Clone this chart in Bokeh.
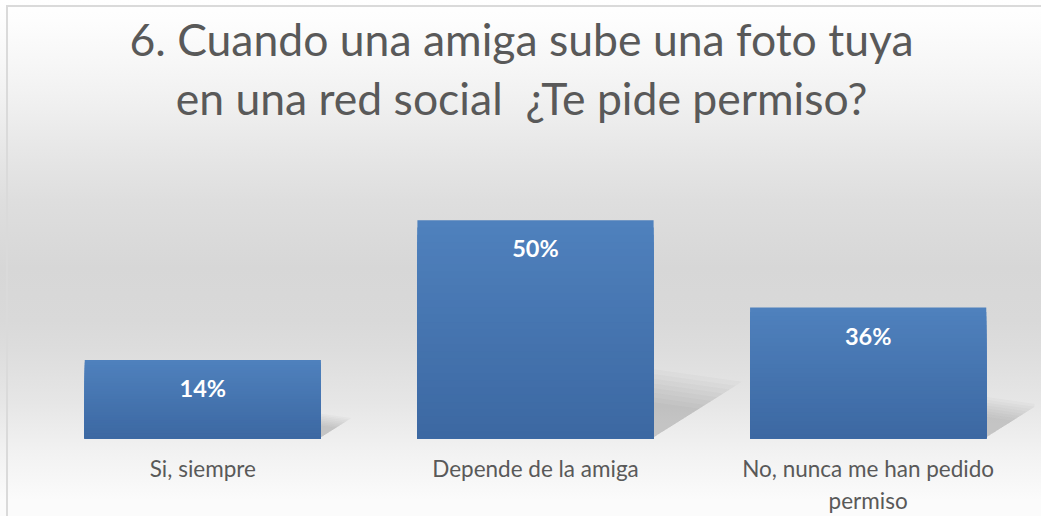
from bokeh.plotting import figure
from bokeh.models import Range1d, FixedTicker, ColumnDataSource
from bokeh.core.properties import value
from bokeh.embed import file_html
from bokeh.resources import INLINE

# ---- data ----
categories = ["Si, siempre", "Depende de la amiga", "No, nunca me han pedido\npermiso"]
percent_values = [14, 50, 36]
bar_heights = [18.0, 50.0, 30.0]   # bar heights as drawn in the picture
title_lines = ["6. Cuando una amiga sube una foto tuya",
               "en una red social \u00a0¿Te pide permiso?"]

# ---- layout constants ----
LEFT = 36
FRAME_W, FRAME_H = 998, 438
PX_PER_UNIT = 288 / 66.0          # vertical px per bar unit
Y_END = FRAME_H / PX_PER_UNIT
BAR_W = 0.71
FONT = "Lato"
TEXT_COLOR = "#595959"
TITLE_CENTER_PX = 521             # horizontal centre of the title (page px)
TITLE_BASELINES_PX = [38, 97]     # vertical anchor of the two title lines (page px)

n = len(categories)
xs = list(range(n))
ux = n / FRAME_W            # data units per px (x)
uy = 1 / PX_PER_UNIT        # data units per px (y)

p = figure(frame_width=FRAME_W, frame_height=FRAME_H,
           min_border_left=LEFT, min_border_right=7,
           min_border_top=0, min_border_bottom=77,
           x_range=Range1d(-0.5, n - 0.5), y_range=Range1d(0, Y_END),
           output_backend="svg", toolbar_location=None)

p.border_fill_color = None
p.background_fill_color = None
p.outline_line_color = None
p.styles = {
    "background-color": "#ffffff",
    "background-image": "linear-gradient(#dadada,#dadada), linear-gradient(#dadada,#dadada), "
                        "linear-gradient(to bottom, #ffffff 0%, #fdfdfd 4%, #f7f7f7 12%, #f0f0f0 20%, "
                        "#e7e7e7 29%, #dedede 39%, #d7d7d7 52%, #d9d9d9 62%, #dddddd 68%, "
                        "#e6e6e6 78%, #f1f1f1 87%, #fbfbfb 97%)",
    "background-size": "2px 100%, 100% 2px, 100% 100%",
    "background-position": "6px 5px, 6px 5px, 0 0",
    "background-repeat": "no-repeat",
}

# ---- shadows ----
sh_xs, sh_ys = [], []
for s in [1.18, 1.1, 1.02, 0.94, 0.86, 0.78, 0.7, 0.62]:
    for i, h in enumerate(bar_heights):
        hp = h / uy
        x0 = xs[i] + BAR_W / 2
        pts = [(0, -2), (0, 0.27 * hp * s), (0.35 * hp * s, 0.22 * hp * s)]
        sh_xs.append([x0 - 2 * ux + a * ux for a, b in pts])
        sh_ys.append([max(b, 0) * uy for a, b in pts])
p.patches(xs=sh_xs, ys=sh_ys, fill_color="#5a5a5a", fill_alpha=0.04, line_color=None)

# ---- bars with vertical gradient ----
N = 30
top_c = (79, 129, 189)
bot_c = (60, 104, 162)
bx, btop, bcol = [], [], []
for k in range(N):
    frac = 1 - k / N
    t = frac - 0.5 / N
    c = tuple(int(round(bot_c[j] + (top_c[j] - bot_c[j]) * t)) for j in range(3))
    col = "#%02x%02x%02x" % c
    for i, h in enumerate(bar_heights):
        bx.append(xs[i])
        btop.append(h * frac)
        bcol.append(col)
p.vbar(x="x", top="top", width=BAR_W, bottom=0, color="c", line_color=None,
       source=ColumnDataSource(dict(x=bx, top=btop, c=bcol)))

# ---- value labels ----
p.text(x=xs, y=[h - 28 * uy for h in bar_heights],
       text=["%d%%" % v for v in percent_values],
       text_align="center", text_baseline="middle",
       text_color="white", text_font=value(FONT), text_font_style="bold",
       text_font_size="23.5px")

# ---- title (two centred lines) ----
tx = -0.5 + (TITLE_CENTER_PX - LEFT) * ux
p.text(x=[tx] * len(title_lines),
       y=[(FRAME_H - b) * uy for b in TITLE_BASELINES_PX],
       text=title_lines, text_align="center", text_baseline="alphabetic",
       text_color=TEXT_COLOR, text_font=value(FONT), text_font_size="44.5px")

# ---- axes ----
p.yaxis.visible = False
p.grid.visible = False
ax = p.xaxis[0]
ax.ticker = FixedTicker(ticks=xs)
ax.major_label_overrides = {i: c for i, c in zip(xs, categories)}
ax.major_label_text_font = FONT
ax.major_label_text_font_size = "22.5px"
ax.major_label_text_color = TEXT_COLOR
ax.major_label_standoff = 10
ax.axis_line_color = None
ax.major_tick_line_color = None
ax.minor_tick_line_color = None

open("out.html", "w").write(file_html(p, INLINE))
